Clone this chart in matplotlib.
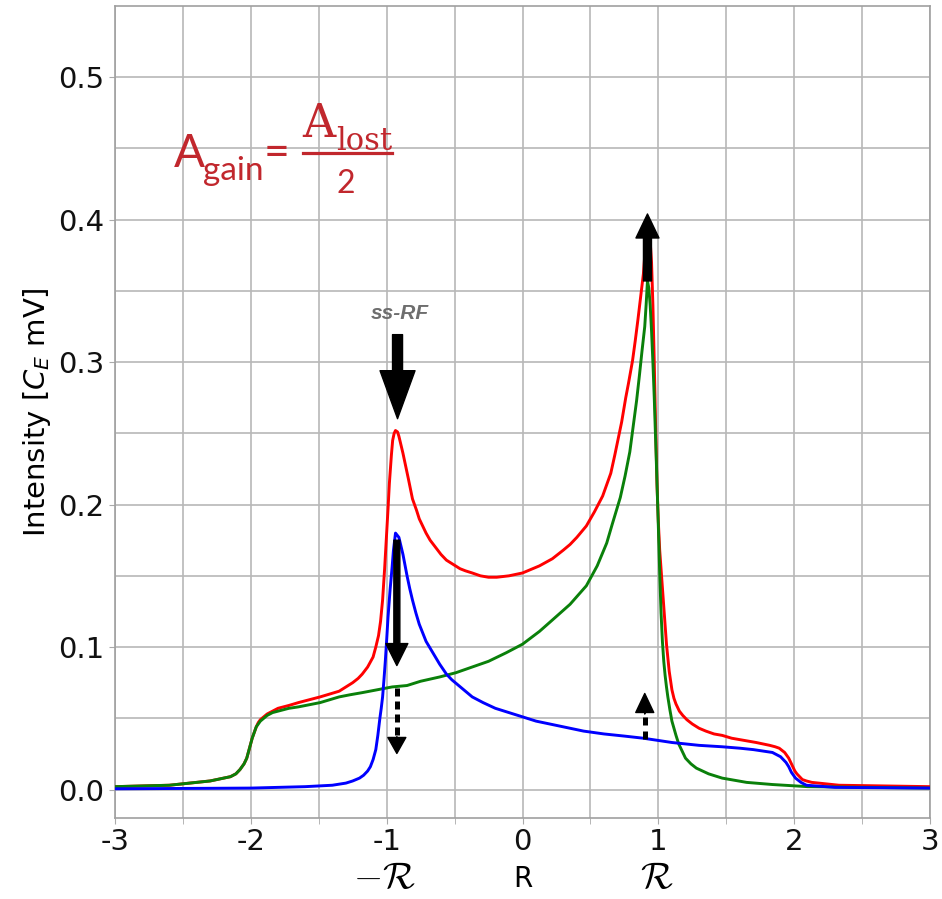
import numpy as np
import matplotlib
matplotlib.use("Agg")
import matplotlib.pyplot as plt
from matplotlib.patches import FancyArrowPatch
from matplotlib.lines import Line2D

plt.rcParams['axes.unicode_minus'] = False

# values, (R, intensity)
red_pts = [(-3.0, 0.002), (-2.6, 0.003), (-2.3, 0.006), (-2.15, 0.009), (-2.11, 0.011),
           (-2.08, 0.014), (-2.05, 0.018), (-2.03, 0.022), (-2.01, 0.029), (-1.99, 0.036),
           (-1.975, 0.040), (-1.96, 0.044), (-1.945, 0.047), (-1.93, 0.049), (-1.905, 0.051),
           (-1.88, 0.053), (-1.84, 0.055), (-1.80, 0.057), (-1.72, 0.059), (-1.65, 0.061),
           (-1.57, 0.063), (-1.49, 0.065), (-1.42, 0.067), (-1.35, 0.069), (-1.30, 0.072),
           (-1.25, 0.075), (-1.21, 0.078), (-1.18, 0.081), (-1.14, 0.086), (-1.10, 0.093),
           (-1.08, 0.100), (-1.06, 0.108), (-1.045, 0.118), (-1.03, 0.133), (-1.015, 0.155),
           (-1.00, 0.180), (-0.99, 0.197), (-0.98, 0.215), (-0.965, 0.235), (-0.956, 0.245),
           (-0.945, 0.250), (-0.935, 0.252), (-0.92, 0.251), (-0.91, 0.248), (-0.88, 0.236),
           (-0.84, 0.218), (-0.81, 0.204), (-0.78, 0.196), (-0.76, 0.190), (-0.71, 0.180),
           (-0.68, 0.175), (-0.64, 0.170), (-0.60, 0.165), (-0.56, 0.161), (-0.51, 0.158),
           (-0.46, 0.155), (-0.42, 0.1535), (-0.37, 0.152), (-0.31, 0.150), (-0.25, 0.149),
           (-0.19, 0.149), (-0.10, 0.150), (0.0, 0.152), (0.125, 0.157), (0.22, 0.162),
           (0.30, 0.168), (0.35, 0.172), (0.40, 0.177), (0.47, 0.185), (0.53, 0.195),
           (0.59, 0.206), (0.65, 0.222), (0.68, 0.235), (0.71, 0.249), (0.73, 0.258),
           (0.76, 0.275), (0.78, 0.285), (0.81, 0.301), (0.83, 0.315), (0.85, 0.330),
           (0.875, 0.350), (0.89, 0.362), (0.90, 0.375), (0.915, 0.385), (0.93, 0.392),
           (0.94, 0.385), (0.95, 0.370), (0.96, 0.340), (0.97, 0.300), (0.98, 0.255),
           (0.99, 0.215), (1.0, 0.188), (1.01, 0.168), (1.02, 0.155), (1.03, 0.143),
           (1.045, 0.122), (1.06, 0.102), (1.08, 0.083), (1.10, 0.070), (1.115, 0.064),
           (1.13, 0.060), (1.155, 0.055), (1.18, 0.052), (1.21, 0.049), (1.25, 0.046),
           (1.30, 0.043), (1.35, 0.041), (1.41, 0.039), (1.47, 0.038), (1.54, 0.036),
           (1.60, 0.035), (1.66, 0.034), (1.72, 0.033), (1.77, 0.032), (1.82, 0.031),
           (1.86, 0.030), (1.89, 0.029), (1.91, 0.0275), (1.93, 0.026), (1.945, 0.024),
           (1.96, 0.022), (1.975, 0.019), (1.99, 0.016), (2.005, 0.013), (2.02, 0.011),
           (2.04, 0.009), (2.06, 0.007), (2.09, 0.006), (2.13, 0.005), (2.33, 0.003),
           (3.0, 0.002)]

green_pts = [(-3.0, 0.002), (-2.6, 0.003), (-2.3, 0.006), (-2.15, 0.009), (-2.11, 0.011),
             (-2.08, 0.014), (-2.05, 0.018), (-2.03, 0.022), (-2.01, 0.029), (-1.99, 0.036),
             (-1.975, 0.040), (-1.96, 0.044), (-1.945, 0.046), (-1.93, 0.048), (-1.905, 0.050),
             (-1.88, 0.052), (-1.84, 0.054), (-1.80, 0.055), (-1.72, 0.057), (-1.65, 0.058),
             (-1.57, 0.0595), (-1.49, 0.061), (-1.42, 0.063), (-1.35, 0.065), (-1.27, 0.0665),
             (-1.18, 0.068), (-1.07, 0.070), (-0.96, 0.072), (-0.85, 0.073), (-0.75, 0.076),
             (-0.61, 0.079), (-0.49, 0.082), (-0.37, 0.086), (-0.25, 0.090), (-0.12, 0.096),
             (0.0, 0.102), (0.125, 0.111), (0.22, 0.119), (0.35, 0.130), (0.41, 0.1365),
             (0.47, 0.143), (0.51, 0.150), (0.55, 0.157), (0.585, 0.165), (0.62, 0.173),
             (0.66, 0.186), (0.72, 0.205), (0.755, 0.220), (0.79, 0.237), (0.815, 0.255),
             (0.84, 0.273), (0.86, 0.290), (0.88, 0.308), (0.90, 0.325), (0.91, 0.340),
             (0.92, 0.357), (0.93, 0.352), (0.94, 0.340), (0.95, 0.322), (0.96, 0.300),
             (0.97, 0.275), (0.985, 0.231), (1.0, 0.185), (1.01, 0.152), (1.02, 0.124),
             (1.03, 0.104), (1.04, 0.090), (1.05, 0.080), (1.06, 0.072), (1.07, 0.065),
             (1.085, 0.056), (1.10, 0.048), (1.115, 0.043), (1.13, 0.038), (1.15, 0.032),
             (1.17, 0.028), (1.20, 0.022), (1.24, 0.018), (1.28, 0.015), (1.37, 0.011),
             (1.47, 0.008), (1.65, 0.005), (1.84, 0.0035), (2.1, 0.002), (3.0, 0.001)]

blue_pts = [(-3.0, 0.0005), (-2.0, 0.001), (-1.6, 0.002), (-1.4, 0.003), (-1.3, 0.0045),
            (-1.25, 0.006), (-1.2, 0.008), (-1.17, 0.010), (-1.14, 0.013), (-1.12, 0.016),
            (-1.10, 0.021), (-1.08, 0.028), (-1.065, 0.038), (-1.05, 0.050), (-1.04, 0.057),
            (-1.03, 0.065), (-1.02, 0.077), (-1.01, 0.090), (-1.0, 0.105), (-0.99, 0.121),
            (-0.975, 0.140), (-0.96, 0.156), (-0.95, 0.168), (-0.935, 0.180), (-0.91, 0.177),
            (-0.88, 0.165), (-0.85, 0.150), (-0.83, 0.141), (-0.81, 0.133), (-0.785, 0.124),
            (-0.76, 0.116), (-0.735, 0.110), (-0.71, 0.104), (-0.66, 0.096), (-0.61, 0.088),
            (-0.56, 0.081), (-0.52, 0.077), (-0.47, 0.073), (-0.42, 0.069), (-0.37, 0.065),
            (-0.29, 0.061), (-0.2, 0.057), (-0.1, 0.054), (0.0, 0.051), (0.1, 0.048),
            (0.2, 0.046), (0.35, 0.043), (0.45, 0.041), (0.6, 0.039), (0.75, 0.0375),
            (0.89, 0.036), (1.10, 0.033), (1.3, 0.031), (1.47, 0.030), (1.6, 0.029),
            (1.70, 0.028), (1.84, 0.026), (1.90, 0.023), (1.92, 0.021), (1.94, 0.019),
            (1.96, 0.016), (1.98, 0.012), (1.995, 0.010), (2.01, 0.008), (2.03, 0.0065),
            (2.05, 0.005), (2.07, 0.004), (2.09, 0.003), (2.3, 0.0015), (3.0, 0.001)]

red_x, red_y = zip(*red_pts)
green_x, green_y = zip(*green_pts)
blue_x, blue_y = zip(*blue_pts)

xticks = [-3, -2, -1, 0, 1, 2, 3]
yticks = [0.0, 0.1, 0.2, 0.3, 0.4, 0.5]

W, H = 942, 899
fig = plt.figure(figsize=(W / 100, H / 100), dpi=100)
ax = fig.add_axes([115 / W, 1 - 818 / H, (930 - 115) / W, (818 - 6) / H])


def fx(px):
    return px / W


def fy(py):
    return 1 - py / H


ax.plot(red_x, red_y, color='#ff0000', lw=2.1, zorder=3, solid_joinstyle='round')
ax.plot(green_x, green_y, color='#0a800a', lw=2.1, zorder=4, solid_joinstyle='round')
ax.plot(blue_x, blue_y, color='#0000ff', lw=2.1, zorder=5, solid_joinstyle='round')

ax.set_xlim(-3, 3)
ax.set_ylim(-0.02, 0.55)
ax.set_xticks(xticks)
ax.set_xticklabels([str(t) for t in xticks])
ax.set_xticks(np.arange(-2.5, 3, 1.0), minor=True)
ax.set_yticks(yticks)
ax.set_yticklabels(['%.1f' % t for t in yticks])
ax.set_yticks(np.arange(0.05, 0.55, 0.1), minor=True)
ax.grid(True, which='both', color='#b8b8b8', lw=1.2)
ax.set_axisbelow(True)
ax.tick_params(which='both', labelsize=21, length=4, color='#aaaaaa', labelcolor='#111111')
ax.tick_params(axis='y', which='minor', length=0)
for s in ax.spines.values():
    s.set_color('#a0a0a0')
    s.set_linewidth(1.2)

ax.set_xlabel('R', fontsize=20, labelpad=6)
ax.set_ylabel(r'Intensity [$C_E$ mV]', fontsize=21, labelpad=4)

fig.text(fx(384), fy(878), r'$-\mathcal{R}$', fontsize=27, ha='center', va='center',
         math_fontfamily='cm')
fig.text(fx(657), fy(878), r'$\mathcal{R}$', fontsize=27, ha='center', va='center',
         math_fontfamily='cm')


def arrow(x0, y0, x1, y1, hw, hl, tw):
    k = 1 / 1.389
    a = FancyArrowPatch((x0, y0), (x1, y1),
                        arrowstyle='simple,head_width=%g,head_length=%g,tail_width=%g'
                        % (hw * k, hl * k, tw * k),
                        mutation_scale=1, color='black', shrinkA=0, shrinkB=0, zorder=6)
    ax.add_patch(a)


# ss-RF arrow
arrow(-0.92, 0.3193, -0.92, 0.2603, 35, 48, 10)
ax.text(-0.905, 0.334, 'ss-RF', fontsize=15, fontweight='bold', fontstyle='italic',
        family='Liberation Sans', color='#6e6e6e', ha='center', va='center')

# solid down arrow on blue peak
arrow(-0.925, 0.175, -0.925, 0.087, 22, 22, 6)
# dashed down arrow
ax.plot([-0.925, -0.925], [0.0716, 0.037], color='black', lw=3.6, dashes=(1.6, 1.0),
        solid_capstyle='butt', zorder=6)
arrow(-0.925, 0.037, -0.925, 0.0253, 18, 16, 0.1)

# big up arrow on the right peak
arrow(0.92, 0.357, 0.92, 0.404, 23, 24, 8)
# dashed up arrow
ax.plot([0.90, 0.90], [0.0358, 0.054], color='black', lw=3.6, dashes=(1.6, 1.2),
        solid_capstyle='butt', zorder=6)
arrow(0.90, 0.053, 0.90, 0.0674, 18, 19, 0.1)

# formula
red = '#c1272d'
fig.text(fx(174), fy(167), 'A', fontsize=33, family='Lato', color=red, ha='left', va='baseline')
fig.text(fx(203), fy(180), 'gain', fontsize=24, family='Lato', color=red, ha='left', va='baseline')
fig.text(fx(264), fy(154), '=', fontsize=32, family='Lato', color=red, ha='left', va='center')
fig.text(fx(302), fy(137), 'A', fontsize=33, family='DejaVu Serif', color=red, ha='left',
         va='baseline')
fig.text(fx(336), fy(150), 'lost', fontsize=22, family='DejaVu Serif', color=red, ha='left',
         va='baseline')
fig.add_artist(Line2D([fx(303), fx(392)], [fy(153), fy(153)], color=red, lw=2.3))
fig.text(fx(337), fy(193), '2', fontsize=23, family='Lato', color=red, ha='left', va='baseline')

fig.savefig('out.png', dpi=100)
